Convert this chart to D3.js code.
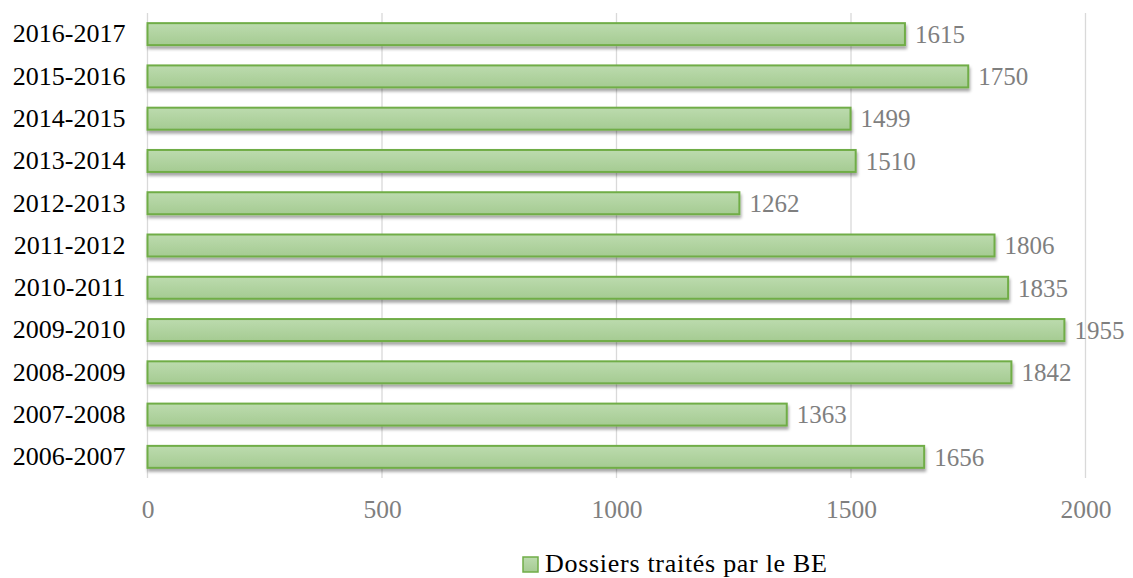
<!DOCTYPE html>
<html>
<head>
<meta charset="UTF-8">
<title>Dossiers traités par le BE</title>
<script src="https://d3js.org/d3.v7.min.js"></script>
<style>
  body { margin: 0; background: #fff; }
  svg { display: block; }
  text { font-family: 'Liberation Serif', 'DejaVu Serif', serif; }
</style>
</head>
<body>
<div id="chart"></div>
<script>
// données
const years = ['2016-2017', '2015-2016', '2014-2015', '2013-2014', '2012-2013', '2011-2012',
  '2010-2011', '2009-2010', '2008-2009', '2007-2008', '2006-2007'];
const dossiers = [1615, 1750, 1499, 1510, 1262, 1806, 1835, 1955, 1842, 1363, 1656];
const xTicks = [0, 500, 1000, 1500, 2000];
const seriesName = 'Dossiers traités par le BE';

const width = 1133, height = 578;
const margin = { top: 13, right: 48, bottom: 100, left: 147.5 };
const serif = "'Liberation Serif', 'DejaVu Serif', serif";

const svg = d3.select('#chart').append('svg')
  .attr('width', width)
  .attr('height', height);

const defs = svg.append('defs');
const grad = defs.append('linearGradient')
  .attr('id', 'barFill').attr('x1', 0).attr('y1', 0).attr('x2', 0).attr('y2', 1);
grad.append('stop').attr('offset', '0%').attr('stop-color', '#bcdbae');
grad.append('stop').attr('offset', '100%').attr('stop-color', '#a5cb92');

const shadow = defs.append('filter').attr('id', 'shadow')
  .attr('x', '-5%').attr('y', '-30%').attr('width', '110%').attr('height', '180%');
shadow.append('feDropShadow')
  .attr('dx', 1).attr('dy', 3).attr('stdDeviation', 1.6)
  .attr('flood-color', '#000').attr('flood-opacity', 0.35);

const x = d3.scaleLinear()
  .domain([0, 2000])
  .range([margin.left, margin.left + 938]);

const y = d3.scaleBand()
  .domain(years)
  .range([margin.top, height - margin.bottom])
  .paddingInner(0.48)
  .paddingOuter(0.24);

// grille
svg.append('g')
  .selectAll('line')
  .data(xTicks)
  .enter().append('line')
  .attr('x1', d => x(d)).attr('x2', d => x(d))
  .attr('y1', margin.top).attr('y2', height - margin.bottom)
  .attr('stroke', '#d9d9d9')
  .attr('stroke-width', 1.3);

// axe x
const xAxis = svg.append('g')
  .attr('transform', `translate(0,${height - margin.bottom})`)
  .call(d3.axisBottom(x).tickValues(xTicks).tickFormat(d3.format('d')).tickSize(0));
xAxis.select('.domain').remove();
xAxis.selectAll('text')
  .attr('y', 31)
  .attr('dy', '0.35em')
  .attr('fill', '#7f7f7f')
  .attr('font-size', 25.5)
  .style('font-family', serif);

// axe y
const yAxis = svg.append('g')
  .attr('transform', `translate(${margin.left},0)`)
  .call(d3.axisLeft(y).tickSize(0).tickPadding(22));
yAxis.select('.domain').remove();
yAxis.selectAll('text')
  .attr('fill', '#000')
  .attr('font-size', 26)
  .style('font-family', serif);

// barres
svg.append('g')
  .selectAll('rect')
  .data(years)
  .enter().append('rect')
  .attr('x', x(0))
  .attr('y', d => y(d))
  .attr('width', (d, i) => x(dossiers[i]) - x(0))
  .attr('height', y.bandwidth())
  .attr('fill', 'url(#barFill)')
  .attr('stroke', '#70ad47')
  .attr('stroke-width', 2)
  .attr('filter', 'url(#shadow)');

// étiquettes de valeur
svg.append('g')
  .selectAll('text')
  .data(years)
  .enter().append('text')
  .attr('x', (d, i) => x(dossiers[i]) + 10)
  .attr('y', d => y(d) + y.bandwidth() / 2)
  .attr('dy', '0.35em')
  .attr('fill', '#7f7f7f')
  .attr('font-size', 25)
  .text((d, i) => dossiers[i]);

// légende
const legend = svg.append('g').attr('transform', 'translate(523,557)');
legend.append('rect')
  .attr('x', 0).attr('y', 0)
  .attr('width', 15).attr('height', 15)
  .attr('fill', 'url(#barFill)')
  .attr('stroke', '#70ad47')
  .attr('stroke-width', 1.5);
legend.append('text')
  .attr('x', 22).attr('y', 14.5)
  .attr('fill', '#000')
  .attr('font-size', 26)
  .attr('textLength', 282)
  .attr('lengthAdjust', 'spacing')
  .text(seriesName);
</script>
</body>
</html>
